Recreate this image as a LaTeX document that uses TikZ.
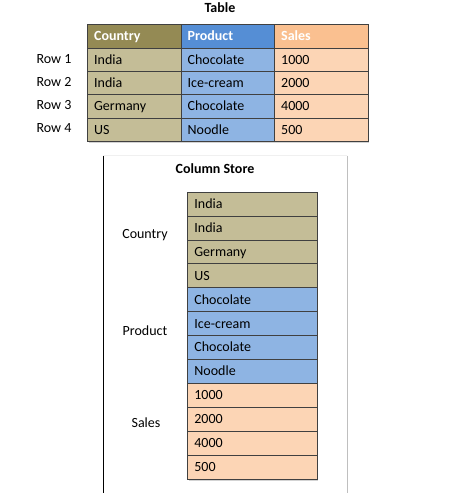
\documentclass[tikz,border=0pt]{standalone}
\usepackage{fontspec}
\setmainfont{Carlito}
\usetikzlibrary{shadows}

\definecolor{ctryhead}{HTML}{948A54}
\definecolor{ctrycell}{HTML}{C4BD97}
\definecolor{prodhead}{HTML}{558ED5}
\definecolor{prodcell}{HTML}{8EB4E3}
\definecolor{saleshead}{HTML}{FAC090}
\definecolor{salescell}{HTML}{FCD5B5}

\tikzset{
  cell/.style={draw=black!75, line width=0.8pt, anchor=north west, inner sep=0pt,
    minimum width=93.5pt, minimum height=23.3pt, text width=80pt, align=left,
    text height=11pt, text depth=2pt,
    drop shadow={shadow xshift=1.2pt, shadow yshift=-1.6pt, opacity=.35}},
  head/.style={cell, text=white, font=\fontsize{14}{16}\selectfont\bfseries},
  stack/.style={cell, minimum width=129.4pt, minimum height=23.9pt, text width=116pt},
  label/.style={font=\fontsize{14}{16}\selectfont}
}

\begin{document}
\begin{tikzpicture}[x=1pt, y=-1pt, every node/.style={font=\fontsize{14}{16}\selectfont}]
			\useasboundingbox (0,0) rectangle (450,493);
			
			\node[font=\fontsize{14}{16}\selectfont\bfseries] (T) at (220,7.5) {Table};
			
			\node[head, fill=ctryhead] (HC) at (87,24.3) {Country};
			\node[head, fill=prodhead] (HP) at (180.5,24.3) {Product};
			\node[head, fill=saleshead] (HS) at (274,24.3) {Sales};
			
			\node[cell, fill=ctrycell] (C1) at (87,47.6) {India};
			\node[cell, fill=ctrycell] (C2) at (87,70.9) {India};
			\node[cell, fill=ctrycell] (C3) at (87,94.2) {Germany};
			\node[cell, fill=ctrycell] (C4) at (87,117.5) {US};
			
			\node[cell, fill=prodcell] (P1) at (180.5,47.6) {Chocolate};
			\node[cell, fill=prodcell] (P2) at (180.5,70.9) {Ice-cream};
			\node[cell, fill=prodcell] (P3) at (180.5,94.2) {Chocolate};
			\node[cell, fill=prodcell] (P4) at (180.5,117.5) {Noodle};
			
			\node[cell, fill=salescell] (S1) at (274,47.6) {1000};
			\node[cell, fill=salescell] (S2) at (274,70.9) {2000};
			\node[cell, fill=salescell] (S3) at (274,94.2) {4000};
			\node[cell, fill=salescell] (S4) at (274,117.5) {500};
			
			\node[label] (R1) at (54,58.7) {Row 1};
			\node[label] (R2) at (54,82) {Row 2};
			\node[label] (R3) at (54,105) {Row 3};
			\node[label] (R4) at (54,128.5) {Row 4};
			
			% column store frame
			\draw[black!6, line width=1.3pt] (103.3,155.7) -- (347.3,155.7);
			\draw[black!25, line width=1pt] (347.3,155.7) -- (347.3,493);
			\draw[black, line width=1pt] (103.3,156) -- (103.3,493);
			
			\node[font=\fontsize{14}{16}\selectfont\bfseries] (CS) at (215,168.3) {Column Store};
			
			\node[stack, fill=ctrycell] (K1) at (187.3,191.7) {India};
			\node[stack, fill=ctrycell] (K2) at (187.3,215.6) {India};
			\node[stack, fill=ctrycell] (K3) at (187.3,239.5) {Germany};
			\node[stack, fill=ctrycell] (K4) at (187.3,263.4) {US};
			\node[stack, fill=prodcell] (K5) at (187.3,287.3) {Chocolate};
			\node[stack, fill=prodcell] (K6) at (187.3,311.2) {Ice-cream};
			\node[stack, fill=prodcell] (K7) at (187.3,335.1) {Chocolate};
			\node[stack, fill=prodcell] (K8) at (187.3,359) {Noodle};
			\node[stack, fill=salescell] (K9) at (187.3,382.9) {1000};
			\node[stack, fill=salescell] (K10) at (187.3,406.8) {2000};
			\node[stack, fill=salescell] (K11) at (187.3,430.7) {4000};
			\node[stack, fill=salescell] (K12) at (187.3,454.6) {500};
			
			\node[label] (LC) at (145,235) {Country};
			\node[label] (LP) at (145,331) {Product};
			\node[label] (LS) at (146,422.7) {Sales};
		\end{tikzpicture}
\end{document}
